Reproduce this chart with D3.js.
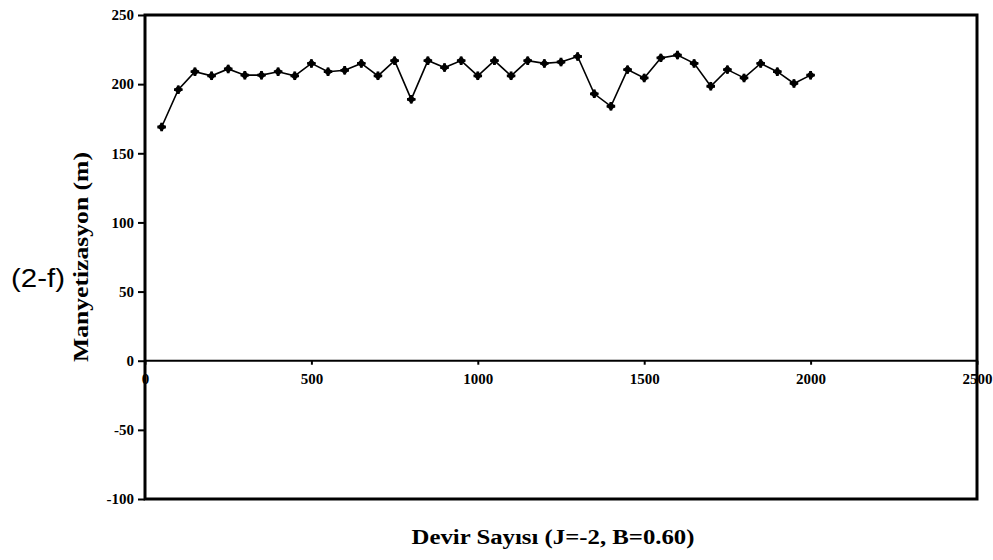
<!DOCTYPE html>
<html>
<head>
<meta charset="utf-8">
<script src="https://cdn.jsdelivr.net/npm/d3@7"></script>
<style>
  body { margin: 0; background: #fff; }
  svg { display: block; }
</style>
</head>
<body>
<script>
// our data: devir sayisi (x) and manyetizasyon (y)
let devir = [50, 100, 150, 200, 250, 300, 350, 400, 450, 500,
             550, 600, 650, 700, 750, 800, 850, 900, 950, 1000,
             1050, 1100, 1150, 1200, 1250, 1300, 1350, 1400, 1450, 1500,
             1550, 1600, 1650, 1700, 1750, 1800, 1850, 1900, 1950, 2000];
let manyetizasyon = [169, 196, 209, 206, 211, 206.5, 206.5, 209, 206, 215,
                     209, 210, 215, 206, 217, 189, 217, 212, 217, 206,
                     217, 206, 217, 215, 216, 220, 193, 184, 210.5, 204.5,
                     219, 221, 215, 198.5, 210.5, 204.5, 215, 209, 200.5, 206.5];
let xTicks = [0, 500, 1000, 1500, 2000, 2500];
let yTicks = [-100, -50, 0, 50, 100, 150, 200, 250];

let data = devir.map((d, i) => { return {x: d, y: manyetizasyon[i]}; });

// canvas
let width = 993;
let height = 560;
let plot = {left: 145, right: 977, top: 15, bottom: 499};

let svg = d3.select("body").append("svg").attr("width", width).attr("height", height);

// scales
let x = d3.scaleLinear().domain([0, 2500]).range([plot.left, plot.right]);
let y = d3.scaleLinear().domain([-100, 250]).range([plot.bottom, plot.top]);

// plain integer labels with a hyphen minus
let fmt = d => String(d);

// style the tick labels like the scanned bold serif
let styleTicks = (g) => {
  g.select(".domain").remove();
  g.selectAll(".tick line").attr("stroke", "#000").attr("stroke-width", 2);
  g.selectAll(".tick text")
    .attr("font-family", "Liberation Serif, serif")
    .attr("font-weight", "bold")
    .attr("font-size", 15)
    .attr("fill", "#000");
};

// y axis on the left edge
svg.append("g")
  .attr("transform", "translate(" + plot.left + ",0)")
  .call(d3.axisLeft(y).tickValues(yTicks).tickFormat(fmt).tickSize(7).tickPadding(4))
  .call(styleTicks);

// x axis sitting on the zero line
svg.append("g")
  .attr("transform", "translate(0," + y(0) + ")")
  .call(d3.axisBottom(x).tickValues(xTicks).tickFormat(fmt).tickSize(4).tickPadding(9))
  .call(styleTicks);

// zero line
svg.append("line")
  .attr("x1", plot.left).attr("x2", plot.right)
  .attr("y1", y(0)).attr("y2", y(0))
  .attr("stroke", "#000").attr("stroke-width", 2);

// plot frame
svg.append("rect")
  .attr("x", plot.left).attr("y", plot.top)
  .attr("width", plot.right - plot.left).attr("height", plot.bottom - plot.top)
  .attr("fill", "none").attr("stroke", "#000").attr("stroke-width", 3);

// the line
let line = d3.line().x(d => x(d.x)).y(d => y(d.y));
svg.append("path")
  .attr("d", line(data))
  .attr("fill", "none")
  .attr("stroke", "#000")
  .attr("stroke-width", 1.6);

// markers: a rotated square with a small cross, like the star shaped points
let pos = d => "translate(" + x(d.x) + "," + y(d.y) + ")";
svg.append("g").selectAll("path")
  .data(data)
  .join("path")
  .attr("transform", d => pos(d) + " rotate(45)")
  .attr("d", d3.symbol().type(d3.symbolSquare).size(38))
  .attr("fill", "#000");
svg.append("g").selectAll("path")
  .data(data)
  .join("path")
  .attr("transform", pos)
  .attr("d", d3.symbol().type(d3.symbolCross).size(40))
  .attr("fill", "#000");

// y axis title
svg.append("text")
  .attr("transform", "translate(88,257) rotate(-90)")
  .attr("text-anchor", "middle")
  .attr("font-family", "Liberation Serif, serif")
  .attr("font-weight", "bold")
  .attr("font-size", 21)
  .attr("textLength", 210)
  .attr("lengthAdjust", "spacingAndGlyphs")
  .text("Manyetizasyon (m)");

// panel label
svg.append("text")
  .attr("x", 38).attr("y", 287)
  .attr("text-anchor", "middle")
  .attr("font-family", "Liberation Sans, Arial, sans-serif")
  .attr("font-size", 26)
  .attr("textLength", 54)
  .attr("lengthAdjust", "spacingAndGlyphs")
  .text("(2-f)");

// x axis title
svg.append("text")
  .attr("x", 553).attr("y", 544)
  .attr("text-anchor", "middle")
  .attr("font-family", "Liberation Serif, serif")
  .attr("font-weight", "bold")
  .attr("font-size", 20)
  .attr("textLength", 283)
  .attr("lengthAdjust", "spacingAndGlyphs")
  .text("Devir Sayısı (J=-2, B=0.60)");
</script>
</body>
</html>
